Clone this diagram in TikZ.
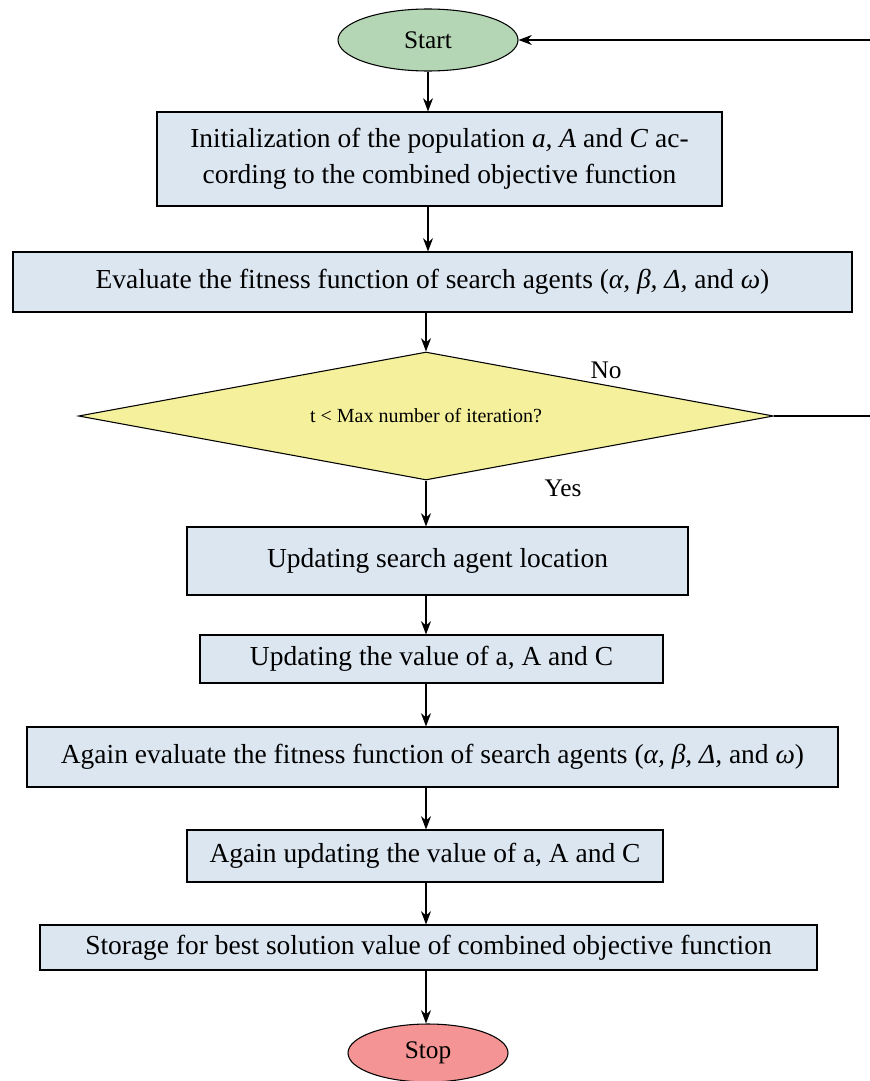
\documentclass[tikz,border=0pt]{standalone}
\usepackage{fontspec}
\setmainfont{Liberation Serif}
\usetikzlibrary{arrows.meta,shapes.geometric}

\tikzset{
  stepbox/.style={draw, thick, fill=boxblue, align=center, inner sep=2pt, font=\fontsize{20.6}{27}\selectfont},
  termnode/.style={draw, thick, ellipse, font=\fontsize{19}{22}\selectfont},
}
\definecolor{boxblue}{RGB}{220,230,241}
\definecolor{startgreen}{RGB}{181,214,181}
\definecolor{stopred}{RGB}{244,148,148}
\definecolor{decyellow}{RGB}{245,240,155}

\begin{document}
\begin{tikzpicture}[x=0.75pt, y=-0.75pt, >={Stealth[length=10pt, width=7.5pt]}]

        \useasboundingbox (0,0) rectangle (869,1081);

        % Start and stop
        \node[termnode, fill=startgreen, minimum width=135pt, minimum height=46.5pt] (start) at (428,40) {Start};
        \node[termnode, fill=stopred, minimum width=120pt, minimum height=43.5pt] (stop) at (428,1053) {Stop};

        % Process boxes
        \node[stepbox, minimum width=423.75pt, minimum height=70.5pt] (init) at (439.5,159)
          {Initialization of the population \textit{a, A} and \textit{C} ac-\\cording to the combined objective function};
        \node[stepbox, minimum width=629.25pt, minimum height=45pt] (eval) at (432.5,282)
          {Evaluate the fitness function of search agents (\textit{α, β, Δ,} and \textit{ω})};
        \node[stepbox, minimum width=375.75pt, minimum height=51pt] (loc) at (437.5,561)
          {Updating search agent location};
        \node[stepbox, minimum width=347.25pt, minimum height=36pt] (upd) at (431.5,659)
          {Updating the value of a, A and C};
        \node[stepbox, minimum width=608.25pt, minimum height=45pt] (reeval) at (432.5,757)
          {Again evaluate the fitness function of search agents (\textit{α, β, Δ,} and \textit{ω})};
        \node[stepbox, minimum width=357pt, minimum height=39pt] (reupd) at (425,856)
          {Again updating the value of a, A and C};
        \node[stepbox, minimum width=582.75pt, minimum height=33.75pt] (store) at (428.5,947.5)
          {Storage for best solution value of combined objective function};

        % Decision
        \node[draw, thick, diamond, fill=decyellow, inner sep=0pt, aspect=5.4,
              minimum width=521.25pt, minimum height=96pt, font=\fontsize{15}{18}\selectfont] (dec) at (426,416)
          {t < Max number of iteration?};
        \node[font=\fontsize{19}{22}\selectfont] (no) at (606,370) {No};
        \node[font=\fontsize{19}{22}\selectfont] (yes) at (563,488) {Yes};

        % Arrows
        \draw[->, thick] (start.south) -- (start.south |- init.north);
        \draw[->, thick] (init.south -| start.south) -- (start.south |- eval.north);
        \draw[->, thick] (eval.south -| dec.north) -- (dec.north);
        \draw[->, thick] (dec.south) -- (dec.south |- loc.north);
        \draw[->, thick] (loc.south -| dec.south) -- (dec.south |- upd.north);
        \draw[->, thick] (upd.south -| dec.south) -- (dec.south |- reeval.north);
        \draw[->, thick] (reeval.south -| dec.south) -- (dec.south |- reupd.north);
        \draw[->, thick] (reupd.south -| dec.south) -- (dec.south |- store.north);
        \draw[->, thick] (store.south -| dec.south) -- (dec.south |- stop.north);

        % Loop back on No
        \coordinate (back) at (885,416);
        \draw[->, thick] (dec.east) -- (back) |- (start.east);

      \end{tikzpicture}
\end{document}
